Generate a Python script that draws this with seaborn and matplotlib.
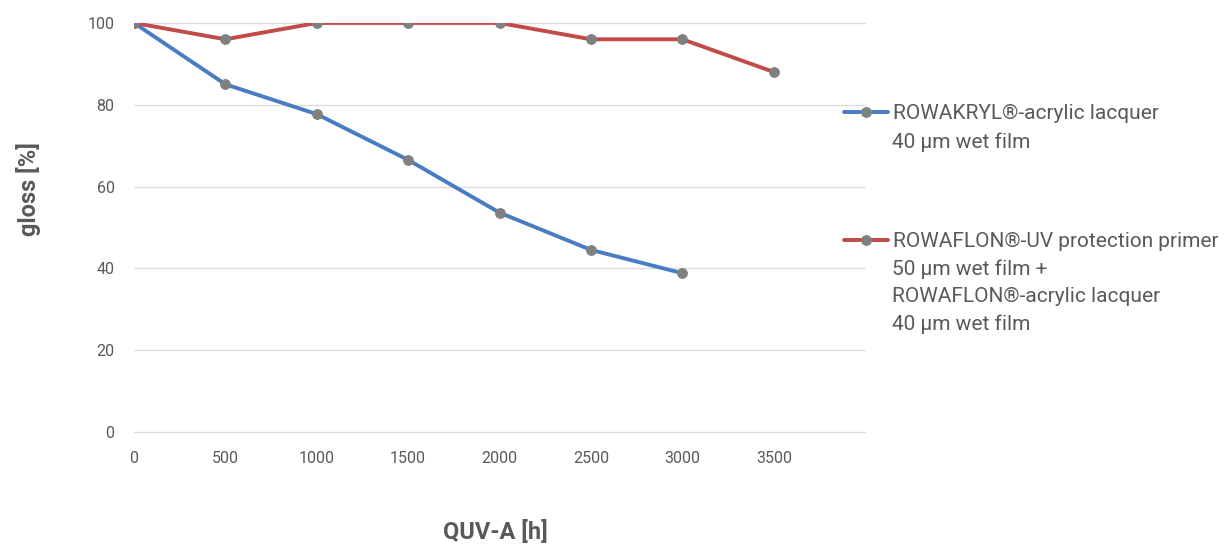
import matplotlib
matplotlib.use('Agg')
import matplotlib.pyplot as plt
import seaborn as sns
import pandas as pd

# values
hours_acryl = [0, 500, 1000, 1500, 2000, 2500, 3000]
gloss_acryl = [100, 85, 77.7, 66.5, 53.6, 44.5, 38.8]
hours_flon = [0, 500, 1000, 1500, 2000, 2500, 3000, 3500]
gloss_flon = [100, 96, 100, 100, 100, 96, 96, 88]

label_acryl = 'ROWAKRYL®-acrylic lacquer'
extra_acryl = '40 µm wet film'
label_flon = 'ROWAFLON®-UV protection primer'
extra_flon = '50 µm wet film +\nROWAFLON®-acrylic lacquer\n40 µm wet film'

x_ticks = [0, 500, 1000, 1500, 2000, 2500, 3000, 3500]
y_ticks = [0, 20, 40, 60, 80, 100]

sns.set_theme(style='white')
plt.rcParams['font.family'] = ['Roboto', 'DejaVu Sans']

fig = plt.figure(figsize=(12.29, 5.46), dpi=100)
ax = fig.add_axes([0.109, 0.209, 0.595, 0.749])

df1 = pd.DataFrame({'QUV-A [h]': hours_acryl, 'gloss [%]': gloss_acryl})
df2 = pd.DataFrame({'QUV-A [h]': hours_flon, 'gloss [%]': gloss_flon})

sns.lineplot(data=df1, x='QUV-A [h]', y='gloss [%]', ax=ax, color='#4a7cc2', lw=2.8,
             marker='o', markersize=7, markerfacecolor='#808080', markeredgecolor='#808080',
             label=label_acryl, zorder=3)
sns.lineplot(data=df2, x='QUV-A [h]', y='gloss [%]', ax=ax, color='#c24a47', lw=2.8,
             marker='o', markersize=7, markerfacecolor='#808080', markeredgecolor='#808080',
             label=label_flon, zorder=3)

ax.set_xlim(0, 4000)
ax.set_ylim(0, 100)
ax.set_xticks(x_ticks)
ax.set_yticks(y_ticks)
ax.yaxis.grid(True, color='#dcdcdc', lw=1)
for gl in ax.get_ygridlines():
    gl.set_clip_on(False)
ax.set_axisbelow(True)
for s in ax.spines.values():
    s.set_visible(False)
ax.tick_params(axis='both', length=0, labelsize=11.5, labelcolor='#595959')
ax.tick_params(axis='x', pad=14)
ax.tick_params(axis='y', pad=14)

ax.set_xlabel('QUV-A [h]', fontsize=17, fontweight='bold', color='#595959')
ax.set_ylabel('gloss [%]', fontsize=17, fontweight='bold', color='#595959')
ax.xaxis.set_label_coords(0.494, -0.216)
ax.yaxis.set_label_coords(-0.127, 0.594)

leg = ax.legend(loc='upper left', bbox_to_anchor=(0.959, 0.821), frameon=False,
                fontsize=15, handlelength=2.15, handletextpad=0.2, labelspacing=5.22,
                borderaxespad=0)
for t in leg.get_texts():
    t.set_color('#595959')

fig.text(0.726, 0.758, extra_acryl, fontsize=15, color='#595959', va='top', linespacing=1.56)
fig.text(0.726, 0.525, extra_flon, fontsize=15, color='#595959', va='top', linespacing=1.56)

plt.savefig('out.png', dpi=100)
